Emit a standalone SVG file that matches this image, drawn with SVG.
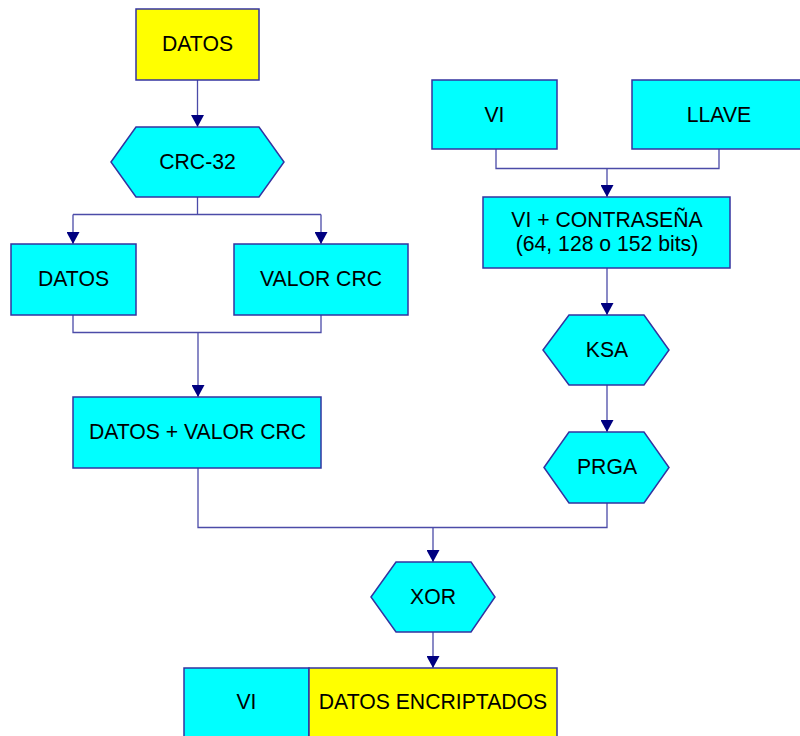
<svg xmlns="http://www.w3.org/2000/svg" width="800" height="736" viewBox="0 0 800 736">
<style>
.c{fill:#00FFFF;stroke:#3333A0;stroke-width:1.5}
.y{fill:#FFFF00;stroke:#3333A0;stroke-width:1.5}
.t{font-family:"Liberation Sans",Arial,sans-serif;font-size:21.2px;fill:#000;text-anchor:middle}
.ln{fill:none;stroke:#4B4BA8;stroke-width:1.3}
</style>
<defs>
<marker id="ah" markerUnits="userSpaceOnUse" markerWidth="13" markerHeight="13" refX="12" refY="6.5" orient="auto">
<path d="M0,0 L12,6.5 L0,13 z" fill="#000080"/>
</marker>
</defs>
<rect width="800" height="736" fill="#fff"/>
<g id="connectors">
<path class="ln" d="M197.5,80 V127" marker-end="url(#ah)"/>
<path class="ln" d="M197.5,197 V214.5 M73,214.5 H321"/>
<path class="ln" d="M73,214.5 V244" marker-end="url(#ah)"/>
<path class="ln" d="M321,214.5 V244" marker-end="url(#ah)"/>
<path class="ln" d="M73,315 V332.5 H321 V315"/>
<path class="ln" d="M198,332.5 V397" marker-end="url(#ah)"/>
<path class="ln" d="M496,149 V168.5 H719 V149"/>
<path class="ln" d="M607,168.5 V197" marker-end="url(#ah)"/>
<path class="ln" d="M607,268 V315" marker-end="url(#ah)"/>
<path class="ln" d="M607,385 V432" marker-end="url(#ah)"/>
<path class="ln" d="M198,468 V527.5 H607 V503"/>
<path class="ln" d="M433,527.5 V562" marker-end="url(#ah)"/>
<path class="ln" d="M433,632 V668" marker-end="url(#ah)"/>
</g>
<g id="datos-top">
<rect class="y" x="136" y="9" width="123" height="71"/>
<text class="t" x="197.5" y="51">DATOS</text>
</g>
<g id="crc32">
<polygon class="c" points="111,162 136,127 259,127 284,162 259,197 136,197"/>
<text class="t" x="197.5" y="169">CRC-32</text>
</g>
<g id="datos">
<rect class="c" x="11" y="244" width="125" height="71"/>
<text class="t" x="73.5" y="286">DATOS</text>
</g>
<g id="valor-crc">
<rect class="c" x="234" y="244" width="174" height="71"/>
<text class="t" x="321" y="286">VALOR CRC</text>
</g>
<g id="datos-valor">
<rect class="c" x="73" y="397" width="248" height="71"/>
<text class="t" x="197.5" y="439">DATOS + VALOR CRC</text>
</g>
<g id="vi">
<rect class="c" x="432" y="80" width="125" height="69"/>
<text class="t" x="494.5" y="122">VI</text>
</g>
<g id="llave">
<rect class="c" x="632" y="80" width="174" height="69"/>
<text class="t" x="719" y="122">LLAVE</text>
</g>
<g id="vi-contrasena">
<rect class="c" x="483" y="197" width="247" height="71"/>
<text class="t" x="607" y="227">VI + CONTRASEÑA</text>
<text class="t" x="607" y="251">(64, 128 o 152 bits)</text>
</g>
<g id="ksa">
<polygon class="c" points="543,350 569,315 644,315 669,350 644,385 569,385"/>
<text class="t" x="607" y="357">KSA</text>
</g>
<g id="prga">
<polygon class="c" points="544,467.5 569,432 644,432 669,467.5 644,503 569,503"/>
<text class="t" x="607" y="474">PRGA</text>
</g>
<g id="xor">
<polygon class="c" points="371,597 396,562 471,562 495,597 471,632 396,632"/>
<text class="t" x="433" y="604">XOR</text>
</g>
<g id="resultado">
<rect class="c" x="184" y="668" width="125" height="75"/>
<rect class="y" x="309" y="668" width="248" height="75"/>
<text class="t" x="246.5" y="709">VI</text>
<text class="t" x="433" y="709">DATOS ENCRIPTADOS</text>
</g>
</svg>
